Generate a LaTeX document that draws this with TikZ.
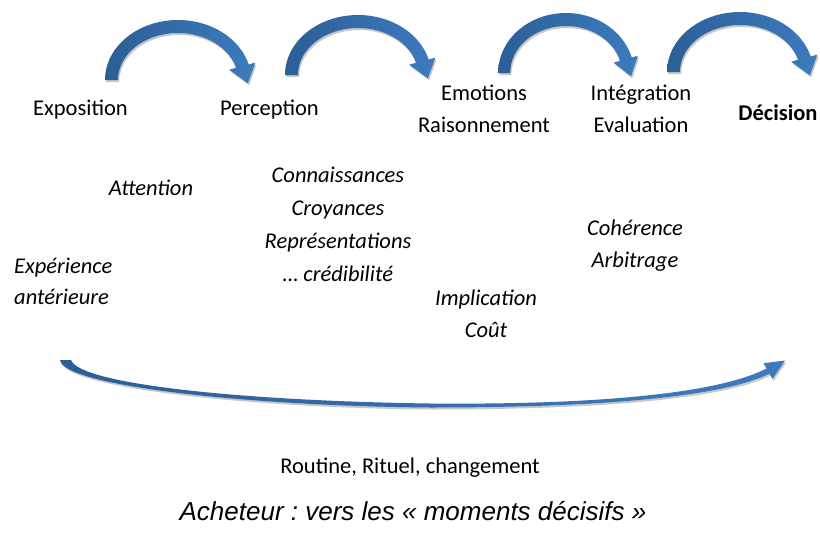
\documentclass[tikz,border=0pt]{standalone}
\usepackage{fontspec}
\setmainfont{Carlito}
\newfontfamily\captionfont{Liberation Sans}
\usetikzlibrary{shadows}
\frenchspacing

\definecolor{blueDark}{RGB}{44,94,151}
\definecolor{blueMid}{RGB}{76,138,202}
\definecolor{blueEnd}{RGB}{61,123,190}

\tikzset{
  arrowshade/.style={
    left color=blueDark, middle color=blueMid, right color=blueEnd,
    drop shadow={shadow xshift=1.2pt, shadow yshift=-2pt, opacity=0.22, fill=black}
  },
  % bent block arrow: outer/inner half-ellipses around the local origin, head at the right
  bentarrow/.pic={
    \path[arrowshade]
      plot[domain=180:345, samples=50] ({73*cos(\x)}, {60*sin(\x)})
      -- (77.3,-17.3) -- (69.9,3.3) -- (51.2,-10.35)
      -- plot[domain=345:180, samples=50] ({60*cos(\x)}, {47*sin(\x)})
      -- cycle;
  },
  % multi-line nodes are placed by the baseline of their last line
  lbl/.style={anchor=base, inner sep=0pt, align=center,
    font=\fontsize{22.5}{32.5}\selectfont},
  ital/.style={anchor=base, inner sep=0pt, align=center,
    font=\fontsize{22.5}{33}\selectfont\itshape}
}

\begin{document}
\begin{tikzpicture}[x=1pt, y=-1pt]
  \useasboundingbox[fill=white] (0,0) rectangle (820,533);

  % bent arrows between the stages
  \pic at (178,80) {bentarrow};
  \pic at (358,75) {bentarrow};
  \pic[xscale=0.93] at (566,73) {bentarrow};
  \pic at (740,72) {bentarrow};

  % long sweeping arrow underneath
  \path[arrowshade]
    (60,360) -- (71,360)
    .. controls (80,385) and (250,401) .. (430,403.5)
    .. controls (600,405) and (720,393) .. (766.5,368.4)
    -- (763.5,363.2) -- (785,360.5) -- (772.5,378.8) -- (769.5,373.6)
    .. controls (722,397) and (600,407.5) .. (430,407.5)
    .. controls (250,406) and (63,386) .. (60,360)
    -- cycle;

  % stages
  \node[lbl] (expo) at (80.5,115) {Exposition};
  \node[lbl] (perc) at (269.5,115) {Perception};
  \node[lbl] (emo) at (484,132.5) {Emotions\\Raisonnement};
  \node[lbl] (integ) at (641,132.5) {Intégration\\Evaluation};
  \node[lbl, font=\fontsize{22.5}{32.5}\selectfont\bfseries] (deci) at (778,120) {Décision};

  % factors
  \node[ital] (att) at (151,195) {Attention};
  \node[ital] (conn) at (338,281) {Connaissances\\Croyances\\Représentations\\… crédibilité};
  \node[ital, anchor=base west, align=left, font=\fontsize{22.5}{31}\selectfont\itshape]
    (expe) at (14,304) {Expérience\\antérieure};
  \node[ital, font=\fontsize{22.5}{32}\selectfont\itshape] (impl) at (486,337) {Implication\\Coût};
  \node[ital, font=\fontsize{22.5}{32.5}\selectfont\itshape] (coh) at (635,267.5) {Cohérence\\Arbitrage};

  \node[lbl] (rout) at (410,473) {Routine, Rituel, changement};
  \node[anchor=base, inner sep=0pt, font=\captionfont\itshape\fontsize{26}{30}\selectfont]
    (capt) at (413,520) {Acheteur : vers les « moments décisifs »};
\end{tikzpicture}
\end{document}
